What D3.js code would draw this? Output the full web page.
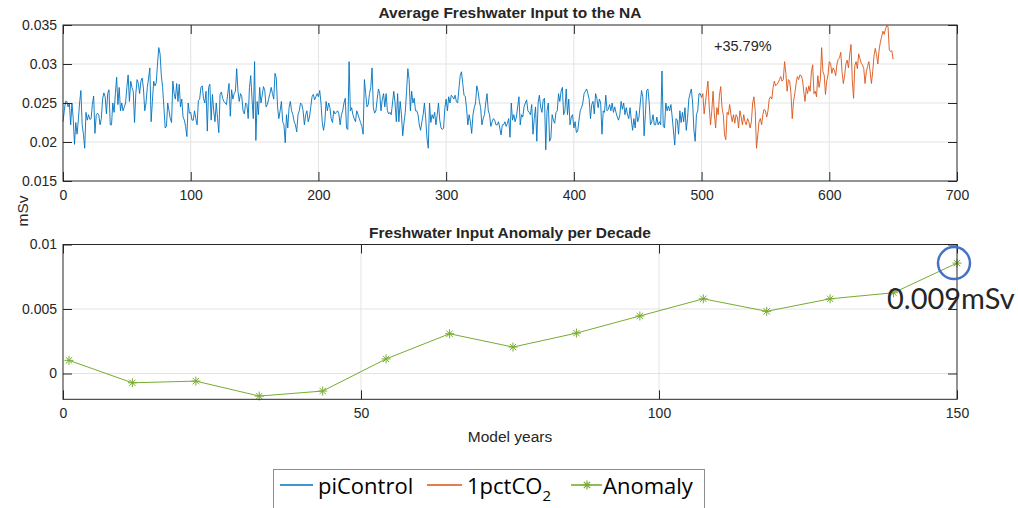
<!DOCTYPE html>
<html>
<head>
<meta charset="utf-8">
<script src="https://cdn.jsdelivr.net/npm/d3@7"></script>
<style>
  html, body { margin: 0; padding: 0; background: #fff; }
  svg { display: block; }
  text { font-family: "Liberation Sans", Arial, Helvetica, sans-serif; fill: #262626; }
</style>
</head>
<body>
<svg id="chart" width="1018" height="508"></svg>
<script>
// ---- Data -----------------------------------------------------------
// Annual mean freshwater input to the North Atlantic (mSv)
const piControlStartYear = 0;
const piControl = [
  .0226,.0240,.0252,.0252,.0245,.0250,.0222,.0250,.0230,.0197,
  .0225,.0210,.0228,.0250,.0266,.0222,.0210,.0192,.0238,.0228,
  .0235,.0229,.0230,.0248,.0259,.0211,.0234,.0237,.0235,.0222,
  .0230,.0255,.0263,.0258,.0236,.0262,.0267,.0222,.0222,.0250,
  .0238,.0262,.0283,.0248,.0270,.0240,.0250,.0240,.0245,.0250,
  .0270,.0286,.0252,.0278,.0270,.0265,.0225,.0262,.0280,.0275,
  .0262,.0278,.0282,.0268,.0240,.0250,.0270,.0282,.0295,.0226,
  .0252,.0278,.0272,.0276,.0300,.0321,.0313,.0285,.0270,.0245,
  .0218,.0220,.0250,.0240,.0230,.0225,.0278,.0262,.0255,.0275,
  .0252,.0274,.0245,.0255,.0232,.0228,.0220,.0207,.0250,.0237,
  .0238,.0228,.0228,.0240,.0230,.0222,.0253,.0255,.0270,.0272,
  .0256,.0250,.0265,.0214,.0270,.0274,.0228,.0261,.0240,.0226,
  .0250,.0230,.0212,.0261,.0264,.0256,.0252,.0250,.0248,.0262,
  .0275,.0233,.0267,.0255,.0262,.0265,.0294,.0265,.0252,.0262,
  .0258,.0240,.0236,.0250,.0248,.0230,.0270,.0285,.0255,.0230,
  .0303,.0202,.0252,.0235,.0270,.0250,.0260,.0271,.0266,.0245,
  .0248,.0255,.0262,.0270,.0262,.0255,.0288,.0282,.0245,.0230,
  .0240,.0252,.0226,.0222,.0199,.0235,.0218,.0244,.0252,.0240,
  .0235,.0226,.0222,.0213,.0235,.0240,.0250,.0248,.0240,.0222,
  .0235,.0240,.0226,.0232,.0245,.0258,.0261,.0254,.0258,.0262,
  .0258,.0266,.0250,.0225,.0215,.0226,.0252,.0240,.0250,.0244,
  .0230,.0225,.0240,.0236,.0238,.0240,.0236,.0222,.0235,.0240,
  .0250,.0256,.0218,.0216,.0303,.0240,.0244,.0235,.0230,.0226,
  .0240,.0235,.0230,.0225,.0220,.0210,.0280,.0262,.0245,.0248,
  .0262,.0270,.0295,.0244,.0237,.0240,.0255,.0268,.0262,.0240,
  .0255,.0262,.0245,.0262,.0240,.0236,.0238,.0235,.0250,.0265,
  .0250,.0226,.0262,.0226,.0252,.0235,.0208,.0225,.0238,.0265,
  .0294,.0280,.0240,.0265,.0250,.0256,.0240,.0240,.0235,.0222,
  .0215,.0226,.0235,.0250,.0230,.0205,.0192,.0250,.0225,.0235,
  .0230,.0238,.0222,.0235,.0250,.0228,.0218,.0216,.0218,.0244,
  .0255,.0240,.0258,.0250,.0260,.0258,.0255,.0260,.0252,.0250,
  .0268,.0285,.0290,.0275,.0260,.0258,.0243,.0222,.0235,.0226,
  .0211,.0235,.0244,.0250,.0272,.0265,.0252,.0244,.0222,.0230,
  .0235,.0250,.0262,.0240,.0235,.0220,.0226,.0230,.0228,.0222,
  .0222,.0226,.0218,.0209,.0222,.0222,.0226,.0220,.0224,.0230,
  .0206,.0250,.0228,.0235,.0226,.0232,.0245,.0258,.0222,.0235,
  .0232,.0245,.0250,.0254,.0240,.0238,.0235,.0248,.0210,.0230,
  .0245,.0201,.0250,.0260,.0245,.0238,.0254,.0256,.0190,.0240,
  .0250,.0201,.0205,.0235,.0228,.0224,.0238,.0240,.0262,.0252,
  .0265,.0270,.0235,.0240,.0268,.0235,.0255,.0222,.0232,.0235,
  .0218,.0226,.0212,.0214,.0228,.0240,.0244,.0250,.0262,.0265,
  .0268,.0262,.0255,.0230,.0248,.0252,.0236,.0262,.0256,.0244,
  .0255,.0250,.0210,.0240,.0238,.0260,.0240,.0242,.0248,.0240,
  .0250,.0238,.0245,.0238,.0232,.0228,.0235,.0252,.0242,.0250,
  .0235,.0244,.0235,.0230,.0244,.0228,.0215,.0230,.0218,.0240,
  .0226,.0232,.0250,.0266,.0258,.0208,.0235,.0266,.0268,.0250,
  .0222,.0226,.0235,.0222,.0222,.0232,.0222,.0226,.0222,.0291,
  .0220,.0218,.0250,.0240,.0246,.0240,.0248,.0232,.0214,.0196,
  .0230,.0228,.0210,.0240,.0225,.0238,.0226,.0244,.0215,.0230,
  .0255,.0262,.0268,.0250,.0215,.0201,.0235,.0240,.0262,.0262,
  .0257
];

const co2StartYear = 500;
const co2 = [
  .0257,.0262,.0236,.0250,.0265,.0278,.0245,.0222,.0240,.0265,
  .0236,.0218,.0244,.0235,.0260,.0271,.0244,.0235,.0209,.0203,
  .0238,.0235,.0248,.0235,.0226,.0235,.0224,.0235,.0232,.0218,
  .0240,.0232,.0222,.0235,.0226,.0222,.0230,.0226,.0218,.0226,
  .0250,.0258,.0240,.0192,.0209,.0226,.0230,.0222,.0235,.0242,
  .0240,.0232,.0240,.0255,.0258,.0255,.0270,.0278,.0272,.0274,
  .0276,.0280,.0284,.0278,.0280,.0303,.0288,.0265,.0280,.0278,
  .0262,.0230,.0252,.0262,.0275,.0284,.0280,.0286,.0285,.0280,
  .0265,.0252,.0270,.0262,.0272,.0265,.0290,.0299,.0262,.0265,
  .0258,.0285,.0270,.0280,.0321,.0290,.0286,.0261,.0278,.0286,
  .0303,.0301,.0288,.0295,.0292,.0285,.0300,.0306,.0308,.0315,
  .0290,.0275,.0285,.0300,.0305,.0295,.0312,.0325,.0280,.0256,
  .0298,.0303,.0294,.0313,.0307,.0301,.0299,.0294,.0275,.0290,
  .0297,.0303,.0290,.0275,.0290,.0310,.0320,.0312,.0300,.0318,
  .0328,.0335,.0342,.0338,.0345,.0349,.0348,.0318,.0316,.0317,
  .0306
];
const co2ChangeLabel = "+35.79%";

// Decadal anomaly (mSv) against model years
const anomalyYears = [1, 11.64, 22.29, 32.93, 43.57, 54.21, 64.86, 75.5,
                      86.14, 96.79, 107.43, 118.07, 128.71, 139.36, 150];
const anomaly = [0.00102, -0.00072, -0.00059, -0.00175, -0.00136, 0.00113,
                 0.00308, 0.00205, 0.00313, 0.00446, 0.00579, 0.00482,
                 0.00579, 0.00626, 0.00856];

// Axis ticks and labels
const topXTicks = [0, 100, 200, 300, 400, 500, 600, 700];
const topXLabels = ["0", "100", "200", "300", "400", "500", "600", "700"];
const topYTicks = [0.015, 0.02, 0.025, 0.03, 0.035];
const topYLabels = ["0.015", "0.02", "0.025", "0.03", "0.035"];
const botXTicks = [0, 50, 100, 150];
const botXLabels = ["0", "50", "100", "150"];
const botYTicks = [0, 0.005, 0.01];
const botYLabels = ["0", "0.005", "0.01"];

const seriesNames = ["piControl", "1pctCO", "Anomaly"];

// ---- Drawing --------------------------------------------------------
const C = { blue: "#0072BD", orange: "#D95319", green: "#77AC30",
            axis: "#262626", grid: "#e3e3e3" };
const svg = d3.select("#chart");

const L = 63, R = 957;
const topPanel = { top: 25, bottom: 181 };
const botPanel = { top: 244.5, bottom: 399.3 };

const xTop = d3.scaleLinear().domain([0, 700]).range([L, R]);
const yTop = d3.scaleLinear().domain([0.015, 0.035]).range([topPanel.bottom, topPanel.top]);
const xBot = d3.scaleLinear().domain([0, 150]).range([L, R]);
const yBot = d3.scaleLinear().domain([-0.002, 0.01]).range([botPanel.bottom, botPanel.top]);

function grid(g, x, y, xt, yt) {
  const [x0, x1] = x.range(), [y0, y1] = y.range();
  g.selectAll(".gx").data(xt.filter(d => x(d) > x0 + 1 && x(d) < x1 - 1)).join("line")
    .attr("x1", d => x(d)).attr("x2", d => x(d)).attr("y1", y0).attr("y2", y1)
    .attr("stroke", C.grid).attr("stroke-width", 1);
  g.selectAll(".gy").data(yt.filter(d => y(d) < y0 - 1 && y(d) > y1 + 1)).join("line")
    .attr("x1", x0).attr("x2", x1).attr("y1", d => y(d)).attr("y2", d => y(d))
    .attr("stroke", C.grid).attr("stroke-width", 1);
}

function frame(g, x, y, xt, xl, yt, yl) {
  const [x0, x1] = x.range(), [y0, y1] = y.range();
  const tick = 9;
  const style = sel => {
    sel.select(".domain").remove();
    sel.selectAll("line").attr("stroke", C.axis);
    sel.selectAll("text").attr("font-size", 14).attr("fill", C.axis)
       .style("font-family", '"Liberation Sans", Arial, sans-serif');
  };
  g.append("g").attr("transform", `translate(0,${y0})`)
    .call(d3.axisBottom(x).tickValues(xt).tickFormat((d, i) => xl[i]).tickSize(-tick).tickPadding(9))
    .call(style);
  g.append("g").attr("transform", `translate(0,${y1})`)
    .call(d3.axisTop(x).tickValues(xt).tickFormat("").tickSize(-tick))
    .call(style);
  g.append("g").attr("transform", `translate(${x0},0)`)
    .call(d3.axisLeft(y).tickValues(yt).tickFormat((d, i) => yl[i]).tickSize(-tick).tickPadding(6))
    .call(style);
  g.append("g").attr("transform", `translate(${x1},0)`)
    .call(d3.axisRight(y).tickValues(yt).tickFormat("").tickSize(-tick))
    .call(style);
  g.append("rect").attr("x", x0).attr("y", y1).attr("width", x1 - x0).attr("height", y0 - y1)
    .attr("fill", "none").attr("stroke", C.axis).attr("stroke-width", 1);
}

// Top panel
const gTop = svg.append("g");
grid(gTop, xTop, yTop, topXTicks, topYTicks);

const lineTop = d3.line().x(d => xTop(d[0])).y(d => yTop(d[1]));
const piPts = piControl.map((v, i) => [piControlStartYear + i, v]);
const co2Pts = co2.map((v, i) => [co2StartYear + i, v]);
gTop.append("path").datum(piPts).attr("d", lineTop)
  .attr("fill", "none").attr("stroke", C.blue).attr("stroke-width", 0.9);
gTop.append("path").datum(co2Pts).attr("d", lineTop)
  .attr("fill", "none").attr("stroke", C.orange).attr("stroke-width", 0.9);
frame(gTop, xTop, yTop, topXTicks, topXLabels, topYTicks, topYLabels);

svg.append("text").attr("x", 510).attr("y", 18).attr("text-anchor", "middle")
  .attr("font-size", 15.5).attr("font-weight", "bold").attr("fill", "#000")
  .text("Average Freshwater Input to the NA");
svg.append("text").attr("x", 714).attr("y", 51)
  .attr("font-size", 14.5).attr("fill", "#000").text(co2ChangeLabel);

// Bottom panel
const gBot = svg.append("g");
grid(gBot, xBot, yBot, botXTicks, botYTicks);
const anomPts = anomaly.map((v, i) => [anomalyYears[i], v]);
const lineBot = d3.line().x(d => xBot(d[0])).y(d => yBot(d[1]));
gBot.append("path").datum(anomPts).attr("d", lineBot)
  .attr("fill", "none").attr("stroke", C.green).attr("stroke-width", 1);

const starPath = r => {
  const q = r * Math.SQRT1_2;
  return `M${-r},0H${r}M0,${-r}V${r}M${-q},${-q}L${q},${q}M${-q},${q}L${q},${-q}`;
};
gBot.selectAll(".star").data(anomPts).join("path")
  .attr("transform", d => `translate(${xBot(d[0])},${yBot(d[1])})`)
  .attr("d", starPath(4.5)).attr("fill", "none")
  .attr("stroke", C.green).attr("stroke-width", 1);
frame(gBot, xBot, yBot, botXTicks, botXLabels, botYTicks, botYLabels);

svg.append("text").attr("x", 510).attr("y", 238).attr("text-anchor", "middle")
  .attr("font-size", 15.5).attr("font-weight", "bold").attr("fill", "#000")
  .text("Freshwater Input Anomaly per Decade");
svg.append("text").attr("x", 510).attr("y", 442).attr("text-anchor", "middle")
  .attr("font-size", 15.5).text("Model years");
svg.append("text").attr("transform", "translate(28,211) rotate(-90)")
  .attr("text-anchor", "middle").attr("font-size", 15.5).text("mSv");

// Highlight of the final decade
const last = anomPts[anomPts.length - 1];
svg.append("circle").attr("cx", xBot(last[0]) - 3).attr("cy", yBot(last[1]))
  .attr("r", 16).attr("fill", "none").attr("stroke", "#4472C4").attr("stroke-width", 2.5);
svg.append("text").attr("x", 887).attr("y", 309)
  .style("font-family", "Lato, 'Open Sans', sans-serif")
  .attr("font-size", 29).attr("fill", "#000")
  .text(d3.format(".3f")(last[1]) + "mSv");

// Legend
const lg = svg.append("g");
lg.append("rect").attr("x", 273.5).attr("y", 469.5).attr("width", 431).attr("height", 60)
  .attr("fill", "#fff").attr("stroke", "#8c8c8c").attr("stroke-width", 1);
const ly = 485;
const legendFont = "'Open Sans', Lato, sans-serif";
lg.append("line").attr("x1", 280).attr("x2", 313).attr("y1", ly).attr("y2", ly)
  .style("stroke", C.blue).style("stroke-width", "1.6px");
lg.append("text").attr("x", 318).attr("y", 494).attr("font-size", 22)
  .style("font-family", legendFont).style("fill", "#000").text(seriesNames[0]);
lg.append("line").attr("x1", 427).attr("x2", 462).attr("y1", ly).attr("y2", ly)
  .style("stroke", C.orange).style("stroke-width", "1.6px");
const t2 = lg.append("text").attr("x", 467).attr("y", 494).attr("font-size", 22)
  .style("font-family", legendFont).style("fill", "#000");
t2.append("tspan").text(seriesNames[1]);
t2.append("tspan").attr("dy", 7).attr("font-size", 15).text("2");
lg.append("line").attr("x1", 571).attr("x2", 602).attr("y1", ly).attr("y2", ly)
  .style("stroke", C.green).style("stroke-width", "1.6px");
lg.append("path").attr("transform", `translate(587,${ly})`).attr("d", starPath(4.5))
  .style("fill", "none").style("stroke", C.green).style("stroke-width", "1.2px");
lg.append("text").attr("x", 603).attr("y", 494).attr("font-size", 22)
  .style("font-family", legendFont).style("fill", "#000").text(seriesNames[2]);
</script>
</body>
</html>
